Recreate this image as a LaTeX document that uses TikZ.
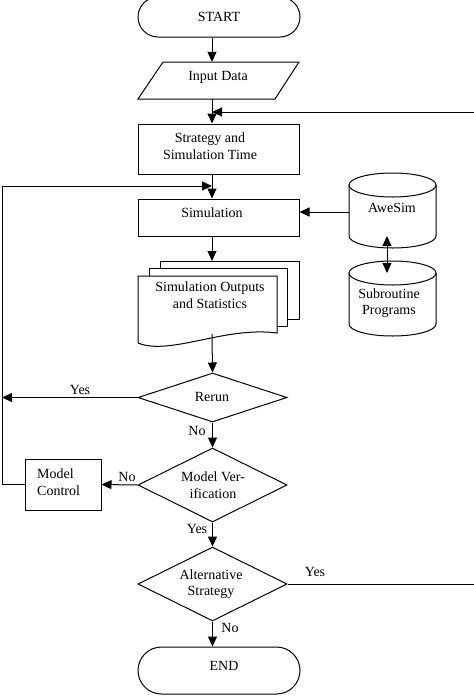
\documentclass[tikz,border=0pt]{standalone}
\usepackage{fontspec}
\setmainfont{Liberation Serif}
\usetikzlibrary{shapes.geometric,shapes.misc,arrows.meta}
\begin{document}
\begin{tikzpicture}[x=1pt,y=-1pt,
  every node/.style={font=\fontsize{14}{16.5}\selectfont, inner sep=0pt},
  ln/.style={line width=1pt, draw=black},
  arr/.style={ln, -{Triangle[length=10pt,width=9pt]}},
  darr/.style={ln, {Triangle[length=10pt,width=9pt]}-{Triangle[length=10pt,width=9pt]}},
  term/.style={rounded rectangle, draw, line width=1pt, minimum width=162pt},
  box/.style={rectangle, draw, line width=1pt},
  dec/.style={diamond, draw, line width=1pt, minimum width=149pt},
  txt/.style={align=center}
]
\useasboundingbox (0,0) rectangle (474,697);
\clip (0,0) rectangle (474,697);
\coordinate (mx) at (212,0);
\coordinate (fbL) at (2,186);
\coordinate (fbR) at (477,112);

% main column
\node[term, minimum height=40pt] (start) at (219,17) {START};
\draw[ln] (138,99) -- (163,62) -- (299,62) -- (275,99) -- cycle;
\node[minimum width=161pt, minimum height=37pt] (input) at (218.5,80.5) {};
\node at (218,77) {Input Data};
\node[box, minimum width=161pt, minimum height=50pt] (strat) at (218.5,149) {};
\node[txt] at (210,146) {Strategy and\\Simulation Time};
\node[box, minimum width=161pt, minimum height=37pt] (sim) at (218.5,217.5) {};
\node at (212,213) {Simulation};

% cylinders
\draw[ln, fill=white] (349,185) -- (349,236) arc[start angle=180,end angle=360,x radius=43.5pt,y radius=12pt] -- (436,185);
\draw[ln] (392.5,185) ellipse[x radius=43.5pt,y radius=12pt];
\node (awe) at (392,208) {AweSim};
\draw[ln, fill=white] (349,273) -- (349,324) arc[start angle=180,end angle=360,x radius=43.5pt,y radius=12pt] -- (436,273);
\draw[ln] (392.5,273) ellipse[x radius=43.5pt,y radius=12pt];
\node[txt] (sub) at (389,303) {Subroutine\\Programs};
\coordinate (aweL) at (349,212);
\coordinate (aweB) at (387,236);
\coordinate (subT) at (387,273);

% multi-document
\draw[ln, fill=white] (160,261) rectangle (299,319);
\draw[ln, fill=white] (149,268) rectangle (287,326);
\draw[ln, fill=white] (277,333) -- (277,276) -- (138,276) -- (138,343) .. controls (170,356) and (225,326) .. (277,333) -- cycle;
\node[txt] (outtxt) at (210,295) {Simulation Outputs\\and Statistics};
\coordinate (outT) at (212,261);
\coordinate (outB) at (212,334);

% decisions
\node[dec, minimum height=49pt] (rerun) at (212.5,397.5) {};
\node at (212,397) {Rerun};
\node[dec, minimum height=74pt] (verif) at (212.5,485) {};
\node[txt] at (213,485) {Model Ver-\\ification};
\node[dec, minimum height=74pt] (alt) at (212.5,584) {};
\node[txt] at (211,584) {Alternative\\Strategy};

\node[box, minimum width=76pt, minimum height=51pt] (mc) at (63,484.5) {};
\node[align=left, anchor=west] at (37,482) {Model\\Control};

\node[term, minimum height=47pt] (stop) at (219,670.5) {};
\node at (224,666) {END};

% connectors
\draw[arr] (start.south -| mx) -- (input.north -| mx);
\draw[arr] (input.south -| mx) -- (strat.north -| mx);
\draw[arr] (strat.south -| mx) -- (sim.north -| mx);
\draw[arr] (sim.south -| mx) -- (outT);
\draw[arr] (outB) -- (rerun.north);
\draw[arr] (rerun.south) -- (verif.north);
\draw[arr] (verif.west) -- (mc.east);
\draw[arr] (verif.south) -- (alt.north);
\draw[arr] (alt.south) -- (stop.north -| alt.south);
\draw[arr] (aweL) -- (aweL -| sim.east);
\draw[darr] (aweB) -- (subT);
\draw[arr] (rerun.west) -- (rerun.west -| fbL);
\draw[arr] (mc.west) -- (mc.west -| fbL) -- (fbL) -- (fbL -| mx);
\draw[arr] (alt.east) -- (alt.east -| fbR) -- (fbR) -- (fbR -| mx);

% labels
\node at (80,390) {Yes};
\node at (197,431) {No};
\node at (127,477) {No};
\node at (197,529) {Yes};
\node at (315,572) {Yes};
\node at (230,628) {No};
\end{tikzpicture}
\end{document}
